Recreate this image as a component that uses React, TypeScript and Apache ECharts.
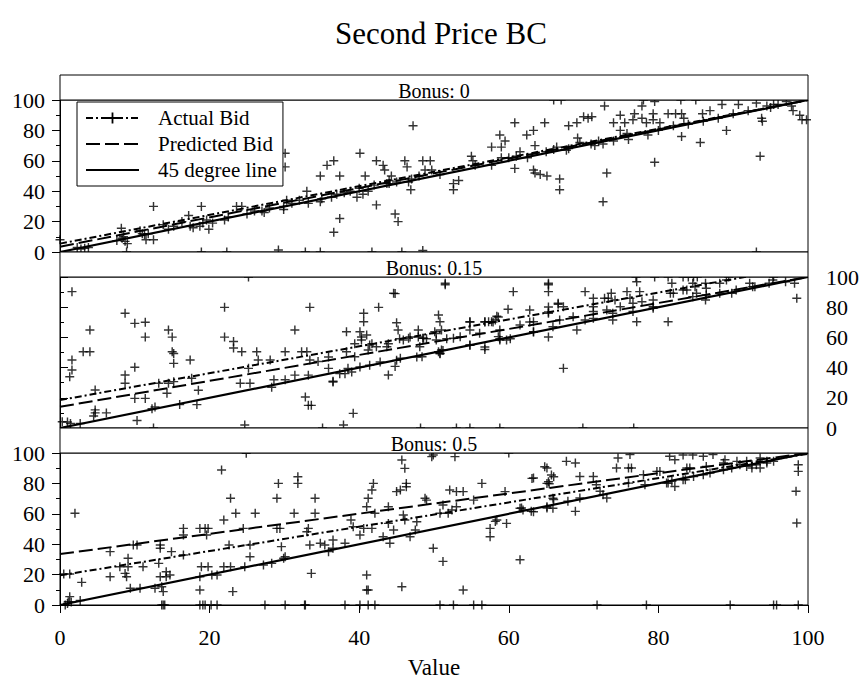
import React, { useEffect, useRef } from "react";
import * as echarts from "echarts";

const titleText = "Second Price BC";
const xName = "Value";
const panelLabels = ["Bonus: 0", "Bonus: 0.15", "Bonus: 0.5"];
const seriesNames = ["Actual Bid", "Predicted Bid", "45 degree line"];
const xTicks = [0, 20, 40, 60, 80, 100];
const yTicks = [0, 20, 40, 60, 80, 100];

// fitted lines per panel: [[x0, y0], [x1, y1]]
const actualFit = [
  [[0, 5.5], [100, 100]],
  [[0, 18.5], [100, 107.5]],
  [[0, 19.5], [100, 99.5]],
];
const predictedFit = [
  [[0, 3.5], [100, 100]],
  [[0, 14], [100, 100]],
  [[0, 33.5], [100, 100]],
];
const diagonal = [[0, 0], [100, 100]];

const bids0 = [
  [0, 8], [2.3, 3], [2.8, 2], [3.3, 2.5], [3.8, 3], [8.2, 15.6], [7.6, 7.5], [8.5, 10], [8.7, 7], [9, 5.5], [8.3, 9],
  [10.7, 14], [11, 12], [11.3, 11.5], [11.8, 12], [11.5, 8], [12.5, 8], [12.5, 30], [13.8, 18], [14.5, 15], [15.2, 17],
  [16.3, 20], [17.2, 24], [17.4, 17], [17.8, 16], [18.7, 17], [19.1, 19], [18.9, 30], [19.6, 21], [19.9, 15], [20.4, 19],
  [22, 21], [22.5, 23], [23.6, 30], [24.3, 30], [25, 25], [27, 27], [27.3, 26], [29.2, 1.3], [29.9, 30], [29.9, 28],
  [30.3, 34], [30.1, 65], [30.1, 56], [33, 40], [33.2, 32], [34.8, 50], [34.8, 33], [35, 35], [35.7, 57], [36.6, 60],
  [37.4, 50], [36.3, 36], [36.6, 13], [37.4, 22], [38.8, 40], [39.7, 36], [40.1, 65], [40.8, 50], [40.5, 38], [41.2, 40],
  [42.3, 60], [43.2, 57], [43.4, 54], [43.7, 45], [44, 47], [44.3, 50], [42.3, 31], [44.8, 25], [45.2, 20], [46.1, 60],
  [46.4, 56], [46.6, 46], [46.9, 41], [47.2, 83], [48.5, 60], [48.8, 54], [48.5, 1],
  [26, 27], [28, 29], [31, 32], [32, 34], [37, 38], [38, 39], [40, 42], [42, 44], [44, 45], [45, 46], [47, 48], [48, 50],
  [49.5, 60], [49.7, 54], [50.8, 51], [52.6, 45], [52.6, 41], [53.3, 47], [55, 63], [55.2, 60], [55.5, 57], [57.7, 69],
  [57.7, 57], [58.8, 77], [59, 69], [59.5, 73], [59, 62], [60.8, 85], [60.8, 55], [61.5, 66], [62.4, 77], [63.3, 80],
  [63.5, 70], [63.3, 54], [63.5, 52], [64.2, 51], [64.8, 85], [65.1, 50], [66.8, 48], [66.8, 41], [66.4, 69], [67.7, 67],
  [68, 83], [69.1, 85], [69.2, 75], [70, 89], [70.6, 88], [71.1, 89], [71.5, 70], [72.6, 71], [73.1, 52], [72.6, 33],
  [72.8, 96], [74, 85], [74.9, 90], [74.9, 80], [75.5, 85], [75.8, 78], [76.6, 87], [76.8, 91], [77.8, 96], [77.8, 88],
  [78.4, 85], [78.6, 77], [79.3, 91], [79.3, 87], [79.5, 99], [79.5, 59], [80.2, 85], [81.3, 91], [82.3, 91], [83.1, 91],
  [83.1, 76], [83.4, 88], [85.6, 72], [85.9, 91], [86.9, 93], [88.5, 97], [89.1, 80], [90.7, 97], [93.1, 98], [93.8, 88],
  [93.9, 86], [93.6, 63], [94.5, 96], [95.4, 97], [97.1, 99], [97.8, 96], [98, 93], [98.9, 90], [99.2, 87], [99.8, 87],
  [93.1, 0], [66, 100], [67, 100], [78, 100], [83, 100], [85, 100],
  [60, 62], [61, 63], [62.5, 62], [65, 66], [66, 67.5], [68, 68], [69.5, 72], [71, 71], [72, 73], [74, 73], [76, 74],
  [80, 80], [82, 83], [84, 84], [86, 86], [88, 88], [90, 91], [92, 93], [95, 95], [96, 97],
  [8.9, 0], [18.9, 0], [22.3, 0], [32.8, 0], [34.8, 0], [41.7, 0], [45.7, 0],
];

const bids015 = [
  [1.6, 90.3], [1.6, 45], [1.6, 38.4], [1.3, 34], [0.3, 4.2], [1, 4], [1.4, 3], [2.7, 3], [3.1, 50.5], [4, 50.5],
  [4, 64.9], [4.7, 25.2], [4.7, 12], [4.7, 10], [4.5, 8], [6.2, 10], [8.7, 76], [8.7, 35.1], [8.7, 29.6], [10, 69.3],
  [11.4, 70], [11.4, 60.2], [10, 40.2], [10.3, 5], [10, 19.6], [11.4, 19.6], [12.3, 12.8], [12.7, 13.9], [13.2, 29.6],
  [14.5, 29.6], [15.2, 30.7], [14.5, 64.9], [15, 60.2], [15, 50.5], [15.2, 49.4], [15.2, 42.8], [14.3, 23], [16, 15.5],
  [17.4, 45], [17.6, 33], [18.5, 25], [18.3, 15.5], [22, 79.9], [22, 60.2], [23.2, 57.3], [23.2, 53], [24.3, 50.5],
  [24.1, 29.6], [25.4, 29.6], [25.2, 39.5], [24.7, 2], [26.3, 50.5], [26.5, 45], [28.1, 45], [28.3, 27], [28.6, 32],
  [30.1, 32], [30.1, 50.5], [31.4, 64.9], [31.4, 35], [32.3, 50.5], [33, 50.5], [32.8, 20.5], [33.2, 15], [33.6, 15],
  [33.4, 79.9], [33.4, 45], [33.2, 35], [34.5, 44], [35.9, 47], [35.9, 39.5], [36.5, 31], [37.4, 36], [37.9, 2],
  [38.3, 63.8], [38.3, 50.5], [38.5, 39.5], [39.2, 9.7], [39.4, 47.2], [40.1, 63.8], [40.6, 76], [40.6, 70.4],
  [40.3, 58.3], [41, 61.6], [41.2, 51.7], [41.4, 55], [42.6, 79.9], [42.3, 53.8], [43.7, 53.8], [43.9, 35.1],
  [44.6, 89.2], [44.8, 40.8], [45, 69.7], [45.2, 64.9], [45.5, 46.2], [45.9, 58.3], [46.6, 59.4], [47.9, 64.9],
  [48.1, 53.8], [48.4, 47.2], [48.6, 59.4], [50.1, 63.8], [50.6, 74.8], [50.6, 50.5],
  [36.5, 30.5], [38.1, 36], [39, 37.1], [40.1, 40.4], [41.4, 41.5], [42.8, 43.7], [45, 44.8], [47.7, 47], [50.8, 49.2],
  [51.2, 51.4], [54.8, 54.8], [56.8, 53.6], [58.8, 59.1], [60.2, 59.1], [63.3, 63.6],
  [39.4, 55.8], [40.3, 60.3], [41.7, 55.8], [43.9, 55.8], [45.4, 59.1], [46.8, 60.3], [47.9, 60.3], [49, 59.1],
  [50.3, 62.5], [51.7, 59.1], [54.8, 70.2], [56.8, 70.2], [57.9, 70.2], [58.6, 73.5], [62.8, 70.2], [65.3, 76.8],
  [44.8, 89], [51.5, 94.9], [60.6, 90.3], [65.3, 94.9], [65.3, 90.3], [65.3, 80.1], [66.6, 82], [65.3, 60.3],
  [51.5, 95.8], [50.8, 70.4], [51, 64.9], [50.3, 58.3], [50.8, 49.5], [51, 51.7], [54.8, 70.4], [54.8, 64.9], [54.8, 55],
  [56.8, 70.4], [57.3, 70.4], [57.7, 70.4], [58.2, 71.5], [58.4, 74], [56.8, 52], [58.6, 60.5], [59.7, 58.3],
  [59.9, 78.6], [62.8, 78.1], [65.3, 95.8], [65.3, 76], [66.6, 82.6], [67.3, 80.3], [67.3, 39.5], [69.1, 64.9],
  [70.2, 90.3], [70.2, 71.5], [71.3, 85.9], [71.3, 80.3], [72.8, 85.9], [73.3, 85.9], [73.7, 89.2], [73.9, 71.5],
  [74.2, 84.8], [75.8, 90.3], [76.2, 85.9], [77.1, 96.9], [77.1, 70.4], [77.5, 90.3], [77.8, 83.6], [79.3, 80.3],
  [81.3, 70.4], [81.8, 95.8], [82, 89.2], [83.3, 91.4], [84.6, 95.8], [84.9, 93.6], [85.1, 89.2], [86.3, 95.8],
  [86.3, 84.8], [89.1, 98], [89.8, 89.2], [92.2, 95.8], [92.9, 93.6], [95.3, 98], [98.2, 95.8], [98.5, 85.9],
  [48.5, 59.4], [52.6, 59.4], [53.5, 60.5], [56.1, 62.7], [58.8, 64.9], [61.5, 68.2], [63.3, 70.4], [66.8, 71.5],
  [68.6, 73.7], [71.3, 77.1], [73.1, 78.1], [74.9, 80.3], [76.6, 82.6], [79.3, 84.8], [81.6, 89.2], [83.8, 91.4],
  [86.4, 92.5], [88.2, 95.8], [58.8, 58.3], [63.3, 63.8], [65.9, 67.1], [71.3, 72.6], [73.9, 76], [76.6, 77.1],
  [79.3, 79.3], [84.6, 87], [86.4, 88.1], [88.2, 89.2], [90.4, 91.4], [92.6, 93.6], [94.8, 95.8], [97, 96.9],
  [77, 100], [79.5, 100], [81.3, 100], [83.3, 100], [84, 100], [84.7, 100], [85.2, 100], [89.4, 100], [95.4, 100],
  [25.2, 100], [12.5, 0], [35.1, 0], [48.2, 0], [53, 0], [54.8, 0], [58.8, 0], [69.9, 0], [76.7, 0],
];

const bids05 = [
  [0.7, 0], [1, 1], [1.5, 2], [1.1, 2.2], [1.3, 5.5], [0.5, 20.4], [1.3, 20.4], [2, 60.3], [2.9, 14.9], [2.7, 3],
  [6.7, 35.1], [6.7, 18.6], [8, 25.2], [8.7, 20.8], [8.9, 18.6], [9.1, 25.2], [9.1, 30.7], [9.4, 11], [9.8, 39.5],
  [10.3, 39.5], [10.7, 11], [11.1, 25.2], [12.7, 11], [13.2, 27.4], [13.4, 39.5], [13.4, 37.3], [13.4, 18.6],
  [13.6, 12], [13.8, 8.8], [14.2, 18.6], [14.2, 21.9], [14.7, 19.7], [14.9, 35.1], [13.6, 0], [13.8, 0], [14, 0],
  [16.5, 50.4], [16.5, 46], [16.5, 32.9], [18.7, 50.4], [18.7, 18.6], [18.7, 9.9], [18.9, 25.2], [19.4, 50.4],
  [19.6, 46], [19.8, 50.4], [19.8, 25.2], [20.3, 19.7], [21, 19.7], [18.7, 0], [19.1, 0], [19.4, 0], [21.6, 88.8],
  [21.9, 55.9], [22.8, 70.2], [23.5, 60.3], [23.1, 8.8], [22.6, 39.5], [21.9, 25.2], [22.8, 25.2], [21, 0],
  [20.2, 0], [24.5, 50.4], [24.7, 25.2], [24.9, 99.8], [25.4, 31.8], [26.1, 60.3], [25.4, 39.5], [27.2, 26.3],
  [28.3, 27.4], [27.4, 0], [30.1, 0], [29, 70.2], [29, 50.4], [29.2, 80], [29.4, 50.4], [29.6, 38.4], [29.9, 30.7],
  [30.1, 31.8], [31.3, 60.3], [31.8, 84.4], [31.8, 80], [32.8, 0], [33, 48.2], [33.2, 50.4], [33.4, 39.5],
  [33.6, 20.8], [34.1, 70.2], [34.1, 60.3], [34.8, 40.6], [35.4, 39.5], [35.9, 35.1], [36.5, 42.8], [36.5, 37.3],
  [38.1, 0], [40.1, 0], [41.2, 0], [42.1, 0], [38.1, 40.6], [38.9, 55.9], [39.2, 51.5], [40.1, 46], [40.6, 50.4],
  [41, 64.7], [41.2, 70.2], [41.7, 75.7], [41.9, 80], [41, 19.7], [41, 9.9], [41.2, 9.9], [41.7, 50.4], [42.1, 60.3],
  [43.2, 44.9], [43.9, 64.7], [44.1, 40.6], [43.9, 53.7], [44.6, 49.3], [45, 74.6], [45.5, 75.7], [45.7, 12],
  [45.7, 95.4], [46.1, 89.9], [45.9, 59.2], [46.1, 55.9], [46.3, 80], [46.3, 77.8], [46.8, 44.9], [47.5, 49.3],
  [47.7, 54.8], [48.8, 70.2], [49.7, 97.6], [49.9, 37.3],
  [51.2, 28.7], [61.5, 29.8], [58.2, 55], [61.7, 63.8], [63, 61.6], [65.1, 90.1], [66, 84.4], [65.4, 79.8],
  [63.3, 83.6], [65.1, 63.8], [66, 69.4], [32.7, 0], [50.8, 0], [52.6, 0], [55.3, 0], [56.4, 0],
  [49.9, 98.7], [52.8, 97.6], [53.9, 9.9], [49, 69], [51.2, 65.8], [50.8, 60.3], [51.9, 60.3], [52.1, 75.7],
  [53, 74.6], [53.9, 74.6], [52.4, 62.5], [53, 64.7], [55.3, 69], [56.4, 80], [57.5, 50.4], [57.5, 44.9],
  [58.4, 55.9], [59.7, 53.7], [59.5, 74.6], [61.5, 63.6], [61.9, 62.5], [63.3, 61.4], [63.1, 83.3], [64.8, 91],
  [65.1, 80], [65.3, 81.1], [65.7, 85.5], [65.1, 64.7], [65.9, 63.6], [65.9, 70.2], [60, 100],
  [67.7, 94.5], [68.9, 93.4], [69.5, 84.6], [71.3, 84.6], [67.9, 68.2], [68.9, 61.6], [69.5, 70.4], [71.7, 79.1],
  [72.2, 74.8], [72.6, 72.6], [73.1, 70.4], [74.4, 90.1], [76, 90.1], [76.4, 90.1], [76, 80.2], [74.6, 96.7],
  [76.2, 99], [78, 85.7], [78.2, 79.1], [80.2, 87.9], [81.5, 97.8], [82.2, 95.6], [82.2, 78], [81.3, 80.2],
  [83.3, 82.4], [84.2, 90.1], [86, 97.8], [87.3, 99], [88.9, 95.6], [90.9, 92.3], [92.5, 92.3], [93.6, 90.1],
  [94.5, 94.5], [98.4, 74.8], [98.5, 53.9], [98.7, 92.3], [98.7, 87.9], [83.3, 98.7], [84.6, 98.7],
  [81.1, 80.3], [81.8, 81.4], [83.6, 82.4], [84.7, 84.6], [86, 85.7], [86.9, 86.8], [88.7, 89], [89.8, 90.1],
  [91.8, 91.2], [92.5, 90.1], [93.1, 92.3], [94.5, 93.4], [95.4, 94.5], [79.8, 87.9], [83.8, 90.1], [86.4, 91.2],
  [88.7, 93.4], [90.5, 94.5], [91.8, 94.5], [93.6, 96.7], [98.7, 0], [95.4, 0], [95.8, 0], [89.6, 0], [71.8, 0],
  [78.4, 0],
];

const panelBids = [bids0, bids015, bids05];

const FONT = "Liberation Serif";
const PLUS = "path://M4.2,0H5.8V4.2H10V5.8H5.8V10H4.2V5.8H0V4.2H4.2Z";

// layout (pixels)
const PLOT_LEFT = 60;
const PLOT_W = 748;
const plotTops = [100, 277, 453];
const plotHeights = [152, 151, 152];
const stripTops = [75, 252, 428];
const STRIP_H = 25;

export default function App() {
  const ref = useRef<HTMLDivElement>(null);

  useEffect(() => {
    if (!ref.current) return;
    const chart = echarts.init(ref.current, undefined, { renderer: "svg" });

    const grids = plotTops.map((t, i) => ({
      left: PLOT_LEFT,
      top: t,
      width: PLOT_W,
      height: plotHeights[i],
      show: true,
      borderColor: "#000",
      borderWidth: 1,
      backgroundColor: "#fff",
    }));

    const xAxes = [0, 1, 2].map((i) => ({
      type: "value",
      gridIndex: i,
      min: xTicks[0],
      max: xTicks[xTicks.length - 1],
      interval: 20,
      axisLine: { show: i === 2, lineStyle: { color: "#000", width: 1 } },
      axisTick: { show: i === 2, length: 8, lineStyle: { color: "#000" } },
      axisLabel: {
        show: i === 2,
        color: "#000",
        fontSize: 22,
        fontFamily: FONT,
        margin: 21,
      },
      splitLine: { show: false },
      name: i === 2 ? xName : "",
      nameLocation: "middle",
      nameGap: 51,
      nameTextStyle: { color: "#000", fontSize: 23, fontFamily: FONT },
    }));

    const yAxes = [0, 1, 2].map((i) => ({
      type: "value",
      gridIndex: i,
      position: i === 1 ? "right" : "left",
      min: yTicks[0],
      max: yTicks[yTicks.length - 1],
      interval: 20,
      axisLine: { show: true, lineStyle: { color: "#000", width: 1 } },
      axisTick: { show: true, length: 8, lineStyle: { color: "#000" } },
      minorTick: { show: true, splitNumber: 2, length: 4, lineStyle: { color: "#000" } },
      axisLabel: {
        color: "#000",
        fontSize: 22,
        fontFamily: FONT,
        margin: i === 1 ? 18 : 15,
      },
      splitLine: { show: false },
      minorSplitLine: { show: false },
    }));

    const series: any[] = [];
    [0, 1, 2].forEach((i) => {
      series.push({
        name: seriesNames[0],
        type: "line",
        xAxisIndex: i,
        yAxisIndex: i,
        data: actualFit[i],
        symbol: PLUS,
        symbolSize: 11,
        showSymbol: false,
        itemStyle: { color: "#000" },
        lineStyle: { color: "#000", width: 2, type: [7, 3, 2, 3] },
        z: 4,
        silent: true,
      });
      series.push({
        name: seriesNames[1],
        type: "line",
        xAxisIndex: i,
        yAxisIndex: i,
        data: predictedFit[i],
        symbol: "rect",
        showSymbol: false,
        itemStyle: { color: "rgba(0,0,0,0)" },
        lineStyle: { color: "#000", width: 2, type: [14, 5] },
        z: 4,
        silent: true,
      });
      series.push({
        name: seriesNames[2],
        type: "line",
        xAxisIndex: i,
        yAxisIndex: i,
        data: diagonal,
        symbol: "rect",
        showSymbol: false,
        itemStyle: { color: "rgba(0,0,0,0)" },
        lineStyle: { color: "#000", width: 2.2, type: "solid" },
        z: 4,
        silent: true,
      });
      series.push({
        name: "bids" + i,
        type: "scatter",
        xAxisIndex: i,
        yAxisIndex: i,
        data: panelBids[i],
        symbol: PLUS,
        symbolSize: 9,
        itemStyle: { color: "#000" },
        z: 3,
        silent: true,
      });
    });

    const graphics: any[] = [];
    stripTops.forEach((t, i) => {
      graphics.push({
        type: "rect",
        shape: { x: PLOT_LEFT, y: t, width: PLOT_W, height: STRIP_H },
        style: { fill: "#fff", stroke: "#000", lineWidth: 1 },
        z: 10,
        silent: true,
      });
      graphics.push({
        type: "text",
        x: PLOT_LEFT + PLOT_W / 2,
        y: t + 15.5,
        style: {
          text: panelLabels[i],
          fill: "#000",
          fontSize: 20,
          fontFamily: FONT,
          align: "center",
          verticalAlign: "middle",
        },
        z: 11,
        silent: true,
      });
    });

    chart.setOption({
      animation: false,
      backgroundColor: "#fff",
      textStyle: { fontFamily: FONT, color: "#000" },
      title: {
        text: titleText,
        left: 441,
        top: 18,
        padding: 0,
        textAlign: "center",
        textStyle: { color: "#000", fontSize: 31, fontWeight: "normal", fontFamily: FONT },
      },
      legend: {
        data: seriesNames,
        orient: "vertical",
        left: 77,
        top: 102,
        padding: [5, 6, 5, 8],
        itemGap: 4,
        itemWidth: 53,
        itemHeight: 14,
        borderColor: "#000",
        borderWidth: 1,
        backgroundColor: "#fff",
        selectedMode: false,
        textStyle: { color: "#000", fontSize: 21, fontFamily: FONT, lineHeight: 22, padding: [0, 0, 0, 14] },
        z: 20,
      },
      grid: grids,
      xAxis: xAxes,
      yAxis: yAxes,
      series,
      graphic: { elements: graphics },
    });

    return () => chart.dispose();
  }, []);

  return (
    <div
      ref={ref}
      style={{ position: "fixed", left: 0, top: 0, width: 862, height: 682, background: "#fff" }}
    />
  );
}
